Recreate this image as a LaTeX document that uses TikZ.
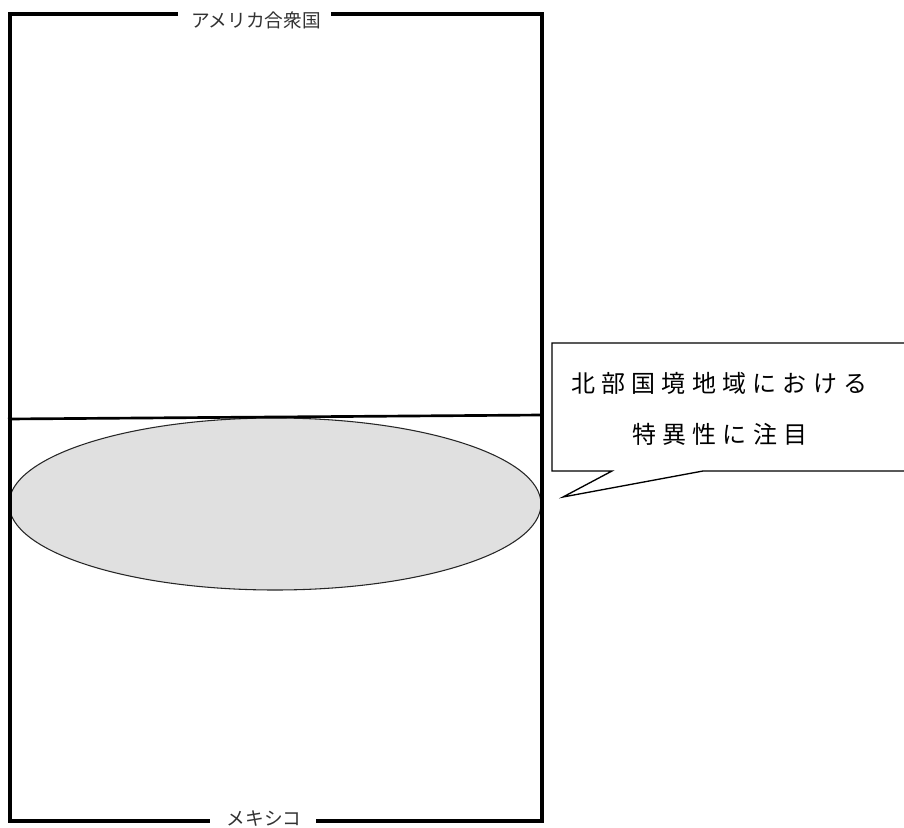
\documentclass[tikz,border=0pt]{standalone}
\usepackage{fontspec}
\usetikzlibrary{shapes.geometric}
\newfontfamily\jpfont{Noto Sans CJK JP}
\newfontfamily\jpspaced[LetterSpace=26]{Noto Sans CJK JP}
\definecolor{ellgray}{RGB}{224,224,224}
\definecolor{labelgray}{RGB}{50,50,50}
\begin{document}
\begin{tikzpicture}[x=0.75pt,y=-0.75pt,
  frame/.style={line width=2.4pt,line join=miter},
  divider/.style={line width=2pt},
  region/.style={draw=black!85,line width=0.8pt,fill=ellgray},
  callout/.style={draw=black,line width=1pt,fill=white},
  sidelabel/.style={inner sep=0pt,text=labelgray,font=\jpfont\fontsize{14pt}{16pt}\selectfont},
  calltext/.style={inner sep=0pt,font=\jpspaced\fontsize{18pt}{21pt}\selectfont}]
\useasboundingbox (0,0) rectangle (904,828);
% highlighted region
\node[region,ellipse,minimum width=399pt,minimum height=129pt,inner sep=0pt] (zone) at (275,504) {};
% frame with labels
\node[sidelabel] (usa) at (256,20) {アメリカ合衆国};
\node[sidelabel] (mex) at (264,819) {メキシコ};
\coordinate (tl) at (10,14);
\coordinate (tr) at (542,14);
\coordinate (bl) at (10,821);
\coordinate (br) at (542,821);
\draw[frame] (178,14) -- (tl) -- (bl) -- (210,821);
\draw[frame] (331,14) -- (tr) -- (br) -- (316,821);
% border line
\coordinate (bdl) at (8,419);
\coordinate (bdr) at (542,415);
\draw[divider] (bdl) -- (bdr);
% callout
\coordinate (tip) at (563,497);
\draw[callout] (906,343) -- (552,343) -- (552,471) -- (612,471) -- (tip) -- (703,471) -- (906,471);
\node[calltext,anchor=west] (c1) at (571,383) {北部国境地域における};
\node[calltext,anchor=west] (c2) at (632,434) {特異性に注目};
\end{tikzpicture}
\end{document}
